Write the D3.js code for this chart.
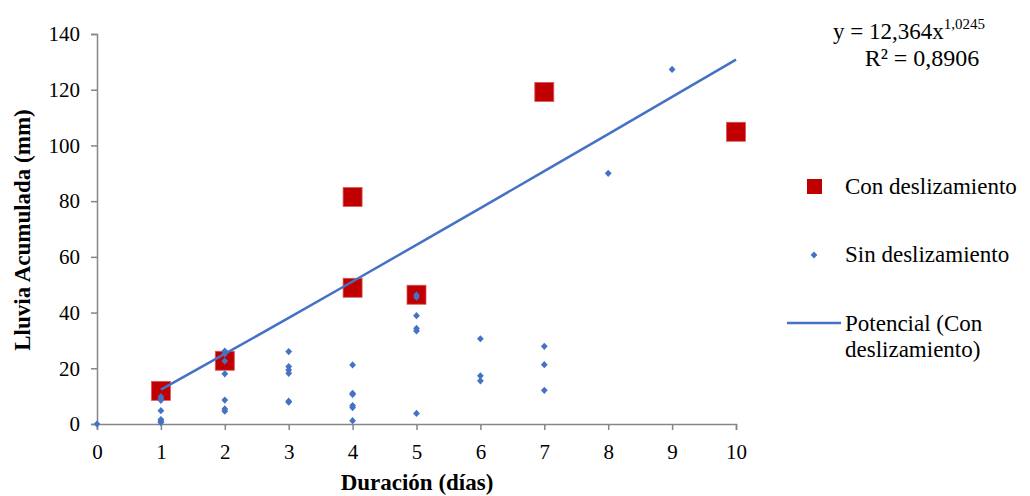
<!DOCTYPE html>
<html>
<head>
<meta charset="utf-8">
<script src="https://cdn.jsdelivr.net/npm/d3@7"></script>
<style>
  body { margin: 0; background: #fff; }
  svg text { font-family: 'Liberation Serif', 'Times New Roman', 'DejaVu Serif', serif; }
</style>
</head>
<body>
<div id="chart"></div>
<script>
// Con deslizamiento (red squares)
const conX = [1, 2, 4, 4, 5, 7, 10]
const conY = [11.9, 22.7, 81.5, 48.9, 46.4, 119.2, 104.9]

// Sin deslizamiento (blue diamonds)
const sinX = [0,
  1, 1, 1, 1, 1, 1, 1,
  2, 2, 2, 2, 2, 2, 2,
  3, 3, 3, 3, 3, 3,
  4, 4, 4, 4, 4, 4,
  5, 5, 5, 5, 5, 5,
  6, 6, 6,
  7, 7, 7,
  8, 9]
const sinY = [0,
  9.8, 9.0, 8.5, 4.8, 1.6, 1.0, 0.5,
  26.2, 25.2, 22.6, 18.0, 8.6, 5.4, 4.6,
  26.0, 20.6, 19.4, 18.2, 8.2, 7.8,
  21.2, 11.0, 10.6, 6.6, 5.9, 1.2,
  46.3, 45.5, 38.9, 34.3, 33.4, 3.8,
  30.6, 17.3, 15.5,
  27.9, 21.3, 12.1,
  90.0, 127.3]

// power trendline y = a * x^b
const trendA = 12.364
const trendB = 1.0245
const trendX = [1, 2, 3, 4, 5, 6, 7, 8, 9, 10]

const xTicks = [0, 1, 2, 3, 4, 5, 6, 7, 8, 9, 10]
const yTicks = [0, 20, 40, 60, 80, 100, 120, 140]

const width = 1030, height = 496
const red = '#C00000', blue = '#4472C4', axisColor = '#868686'
const serif = "'Liberation Serif', 'Times New Roman', 'DejaVu Serif', serif"

const svg = d3.select('#chart').append('svg')
  .attr('width', width)
  .attr('height', height)
  .attr('font-family', serif)

const x = d3.scaleLinear().domain([0, 10]).range([97, 736])
const y = d3.scaleLinear().domain([0, 140]).range([424, 34])

// axes
const xAxis = svg.append('g')
  .attr('transform', `translate(0,${y(0)})`)
  .call(d3.axisBottom(x).tickValues(xTicks).tickSize(6).tickPadding(14).tickFormat(d3.format('d')))
const yAxis = svg.append('g')
  .attr('transform', `translate(${x(0)},0)`)
  .call(d3.axisLeft(y).tickValues(yTicks).tickSize(6).tickPadding(11).tickFormat(d3.format('d')))

;[xAxis, yAxis].forEach(ax => {
  ax.attr('font-family', serif).attr('font-size', 21)
  ax.select('.domain').attr('stroke', axisColor).attr('stroke-width', 1.5)
  ax.selectAll('.tick line').attr('stroke', axisColor).attr('stroke-width', 1.5)
  ax.selectAll('.tick text').attr('fill', '#000')
})

// axis titles
svg.append('text')
  .attr('x', 417).attr('y', 490)
  .attr('text-anchor', 'middle')
  .attr('font-size', 23).attr('font-weight', 'bold')
  .text('Duración (días)')
svg.append('text')
  .attr('transform', `translate(30,230) rotate(-90)`)
  .attr('text-anchor', 'middle')
  .attr('font-size', 23).attr('font-weight', 'bold')
  .text('Lluvia Acumulada (mm)')

// red squares
const sq = 19
svg.append('g').selectAll('rect')
  .data(conX.map((d, i) => ({x: d, y: conY[i]})))
  .join('rect')
  .attr('x', d => x(d.x) - sq / 2)
  .attr('y', d => y(d.y) - sq / 2)
  .attr('width', sq).attr('height', sq)
  .attr('fill', red)
  .attr('stroke', '#d9595b').attr('stroke-width', 0.8)

// trendline
const line = d3.line().x(d => x(d)).y(d => y(trendA * Math.pow(d, trendB)))
svg.append('path')
  .datum(trendX)
  .attr('d', line)
  .attr('fill', 'none')
  .attr('stroke', blue)
  .attr('stroke-width', 2.5)

// blue diamonds
const diamond = 'M0,-3.6L3.4,0L0,3.6L-3.4,0Z'
svg.append('g').selectAll('path')
  .data(sinX.map((d, i) => ({x: d, y: sinY[i]})))
  .join('path')
  .attr('transform', d => `translate(${x(d.x)},${y(d.y)})`)
  .attr('d', diamond)
  .attr('fill', blue)

// equation
const eq = svg.append('text')
  .attr('x', 833).attr('y', 39)
  .attr('font-size', 23)
eq.append('tspan').text('y = 12,364x')
eq.append('tspan').attr('dy', -10).attr('font-size', 15).text('1,0245')
svg.append('text')
  .attr('x', 922).attr('y', 66)
  .attr('text-anchor', 'middle')
  .attr('font-size', 24)
  .text('R² = 0,8906')

// legend
const legend = svg.append('g').attr('font-size', 23)
legend.append('rect')
  .attr('x', 807).attr('y', 179).attr('width', 15).attr('height', 15)
  .attr('fill', red)
legend.append('text').attr('x', 845).attr('y', 194).text('Con deslizamiento')
legend.append('path')
  .attr('transform', 'translate(814,255)')
  .attr('d', diamond).attr('fill', blue)
legend.append('text').attr('x', 845).attr('y', 262).text('Sin deslizamiento')
legend.append('line')
  .attr('x1', 787).attr('x2', 841).attr('y1', 323).attr('y2', 323)
  .attr('stroke', blue).attr('stroke-width', 2.5)
legend.append('text').attr('x', 845).attr('y', 331).text('Potencial (Con')
legend.append('text').attr('x', 845).attr('y', 357).text('deslizamiento)')
</script>
</body>
</html>
